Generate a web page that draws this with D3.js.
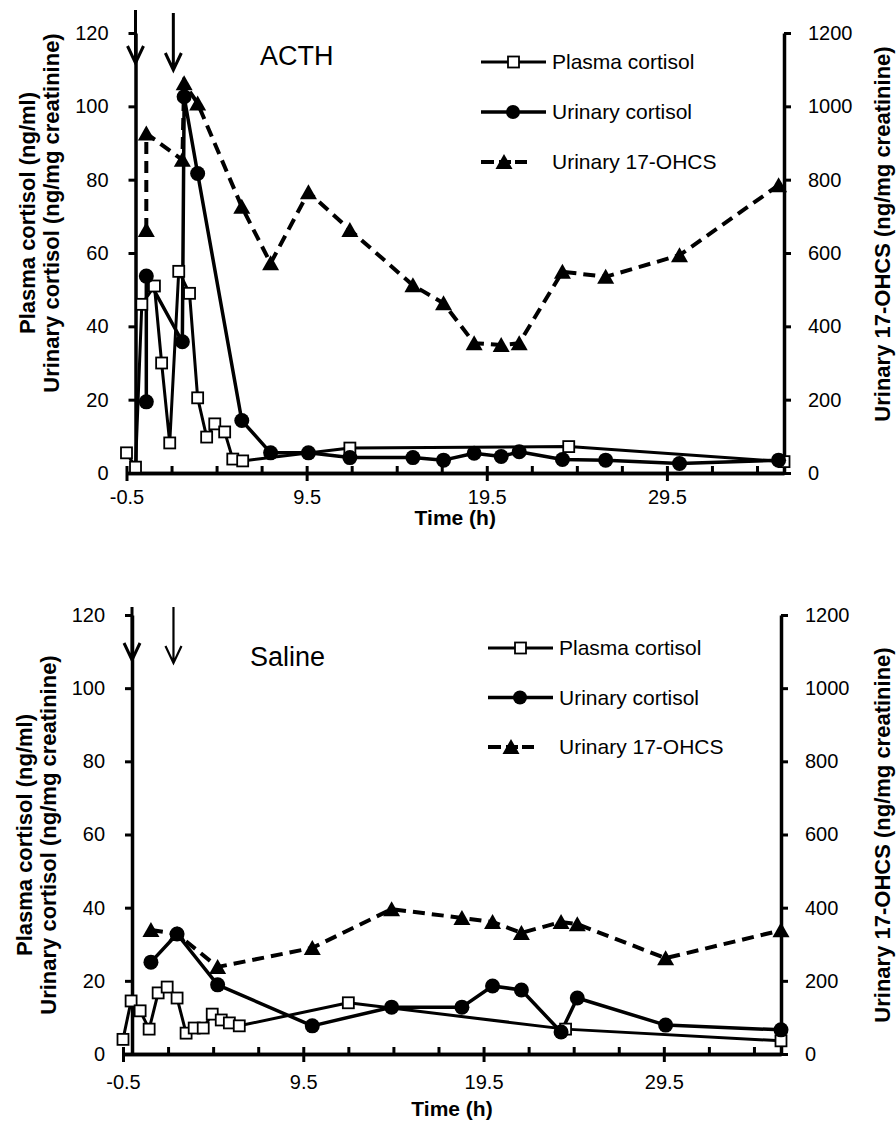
<!DOCTYPE html>
<html>
<head>
<meta charset="utf-8">
<script src="https://cdn.jsdelivr.net/npm/d3@7"></script>
<style>
body { margin: 0; background: #fff; }
svg { display: block; font-family: "Liberation Sans", Arial, sans-serif; }
</style>
</head>
<body>
<div id="chart"></div>
<script>
// ---- ACTH panel ----
var acthPlasmaTime = [-0.5, 0, 0.35, 1.05, 1.45, 1.9, 2.4, 3.0, 3.45, 3.95, 4.4, 4.95, 5.4, 5.95, 11.9, 24.05, 36];
var acthPlasma = [5.5, 1.6, 46, 51, 30, 8.2, 55, 49, 20.5, 9.8, 13.4, 11.2, 3.8, 3.3, 6.8, 7.2, 3.1];
var acthUrineTime = [0.6, 0.6, 2.6, 2.7, 3.45, 5.9, 7.5, 9.6, 11.9, 15.4, 17.1, 18.8, 20.3, 21.3, 23.7, 26.1, 30.2, 35.7];
var acthUrineCortisol = [19.4, 53.7, 35.8, 102.6, 81.7, 14.3, 5.5, 5.5, 4.2, 4.2, 3.5, 5.4, 4.5, 5.8, 3.7, 3.5, 2.6, 3.5];
var acthOhcs = [663, 926, 854, 1063, 1008, 726, 572, 766, 663, 512, 463, 354, 349, 354, 549, 535, 594, 785];
var acthArrowTimes = [0, 2.1];

// ---- Saline panel ----
var salinePlasmaTime = [-0.5, -0.05, 0.45, 0.95, 1.45, 1.95, 2.5, 3.0, 3.45, 3.95, 4.45, 4.95, 5.4, 5.95, 12.0, 24.05, 36];
var salinePlasma = [4, 14.5, 11.8, 6.8, 16.7, 18.3, 15.3, 5.7, 7.1, 7.1, 10.9, 9.3, 8.5, 7.7, 14, 6.8, 3.6];
var salineUrineTime = [1.05, 2.5, 4.75, 10.0, 14.4, 18.3, 20.0, 21.6, 23.8, 24.7, 29.6, 36];
var salineUrineCortisol = [25.1, 32.8, 18.9, 7.7, 12.8, 12.8, 18.6, 17.5, 6.0, 15.3, 7.9, 6.6];
var salineOhcs = [339, 328, 238, 290, 396, 372, 361, 331, 361, 355, 262, 338];
var salineArrowTimes = [0, 2.3];

// ---- shared axes / labels ----
var xMajorTicks = [-0.5, 9.5, 19.5, 29.5];
var xMinorTicks = [2, 4.5, 7, 12, 14.5, 17, 22, 24.5, 27, 32, 34.5];
var leftTicks = [0, 20, 40, 60, 80, 100, 120];
var rightTicks = [0, 200, 400, 600, 800, 1000, 1200];
var seriesNames = ["Plasma cortisol", "Urinary cortisol", "Urinary 17-OHCS"];

var svg = d3.select("#chart")
    .append("svg")
    .attr("width", 896)
    .attr("height", 1131);

var triPath = "M0,-8L8.5,7L-8.5,7Z";

function styleAxis(g) {
    g.select(".domain").attr("stroke", "#000").attr("stroke-width", 3.5);
    g.selectAll(".tick line").attr("stroke", "#000").attr("stroke-width", 3);
    g.selectAll("text").attr("fill", "#000");
    g.attr("font-family", null).attr("font-size", 20);
}

function drawPanel(p) {
    var g = svg.append("g");

    var x = d3.scaleLinear().domain([-0.5, 36]).range([p.left, p.right]);
    var yL = d3.scaleLinear().domain([0, 120]).range([p.bottom, p.top]);
    var yR = d3.scaleLinear().domain([0, 1200]).range([p.bottom, p.top]);

    // x axis: minor ticks inside, major ticks crossing
    var xMinor = g.append("g")
        .attr("transform", "translate(0," + p.bottom + ")")
        .call(d3.axisBottom(x).tickValues(xMinorTicks).tickSize(-7).tickSizeOuter(0).tickFormat(""));
    styleAxis(xMinor);

    var xMajor = g.append("g")
        .attr("transform", "translate(0," + p.bottom + ")")
        .call(d3.axisBottom(x).tickValues(xMajorTicks).tickSize(8).tickPadding(p.xPad).tickSizeOuter(0)
            .tickFormat(function(d) { return d.toFixed(1); }));
    styleAxis(xMajor);
    xMajor.selectAll(".tick line").attr("y1", -7).attr("y2", 8);

    // left axis crosses at t = 0
    var yAxisL = g.append("g")
        .attr("transform", "translate(" + x(0) + ",0)")
        .call(d3.axisLeft(yL).tickValues(leftTicks).tickSize(7).tickPadding(20).tickSizeOuter(0)
            .tickFormat(function(d) { return String(d); }));
    styleAxis(yAxisL);

    var yAxisR = g.append("g")
        .attr("transform", "translate(" + x(36) + ",0)")
        .call(d3.axisRight(yR).tickValues(rightTicks).tickSize(7).tickPadding(17).tickSizeOuter(0)
            .tickFormat(function(d) { return String(d); }));
    styleAxis(yAxisR);

    // injection arrows
    p.arrowTimes.forEach(function(t, i) {
        var ax = x(t), a = p.arrows[i];
        g.append("path")
            .attr("d", "M" + ax + "," + a[0] + "L" + ax + "," + a[1] +
                "M" + (ax - 8) + "," + (a[1] - 17) + "L" + ax + "," + a[1] + "L" + (ax + 8) + "," + (a[1] - 17))
            .attr("fill", "none")
            .attr("stroke", "#000")
            .attr("stroke-width", a[2]);
    });

    var plasma = p.plasmaTime.map(function(t, i) { return [t, p.plasma[i]]; });
    var urine = p.urineTime.map(function(t, i) { return [t, p.urineCortisol[i]]; });
    var ohcs = p.urineTime.map(function(t, i) { return [t, p.ohcs[i]]; });

    var lineL = d3.line().x(function(d) { return x(d[0]); }).y(function(d) { return yL(d[1]); });
    var lineR = d3.line().x(function(d) { return x(d[0]); }).y(function(d) { return yR(d[1]); });

    g.append("path").datum(ohcs)
        .attr("d", lineR).attr("fill", "none").attr("stroke", "#000")
        .attr("stroke-width", 4).attr("stroke-dasharray", "12,7");
    g.append("path").datum(plasma)
        .attr("d", lineL).attr("fill", "none").attr("stroke", "#000")
        .attr("stroke-width", 3).attr("stroke-linejoin", "round");
    g.append("path").datum(urine)
        .attr("d", lineL).attr("fill", "none").attr("stroke", "#000")
        .attr("stroke-width", 3.5).attr("stroke-linejoin", "round");

    g.selectAll(".tri").data(ohcs).enter().append("path")
        .attr("d", triPath)
        .attr("transform", function(d) { return "translate(" + x(d[0]) + "," + yR(d[1]) + ")"; })
        .attr("fill", "#000");
    g.selectAll(".sq").data(plasma).enter().append("rect")
        .attr("x", function(d) { return x(d[0]) - 5.5; })
        .attr("y", function(d) { return yL(d[1]) - 5.5; })
        .attr("width", 11).attr("height", 11)
        .attr("fill", "#fff").attr("stroke", "#000").attr("stroke-width", 1.8);
    g.selectAll(".dot").data(urine).enter().append("circle")
        .attr("cx", function(d) { return x(d[0]); })
        .attr("cy", function(d) { return yL(d[1]); })
        .attr("r", 7.5).attr("fill", "#000");

    // panel title
    g.append("text")
        .attr("x", p.titleX).attr("y", p.titleY)
        .attr("font-size", 27)
        .text(p.title);

    // legend
    var lg = g.append("g").attr("transform", "translate(" + p.legendX + "," + p.legendY + ")");
    seriesNames.forEach(function(name, i) {
        var row = lg.append("g").attr("transform", "translate(0," + (i * p.legendGap) + ")");
        if (i < 2) {
            row.append("line").attr("x1", 0).attr("x2", 65).attr("y1", 0).attr("y2", 0)
                .attr("stroke", "#000").attr("stroke-width", i == 0 ? 3 : 3.5);
        } else {
            row.append("line").attr("x1", 0).attr("x2", 13).attr("y1", 0).attr("y2", 0)
                .attr("stroke", "#000").attr("stroke-width", 4);
            row.append("line").attr("x1", 18).attr("x2", 46).attr("y1", 0).attr("y2", 0)
                .attr("stroke", "#000").attr("stroke-width", 4).attr("stroke-dasharray", "12,4");
        }
        if (i == 0) {
            row.append("rect").attr("x", 27).attr("y", -5.5).attr("width", 11).attr("height", 11)
                .attr("fill", "#fff").attr("stroke", "#000").attr("stroke-width", 1.8);
        } else if (i == 1) {
            row.append("circle").attr("cx", 32).attr("cy", 0).attr("r", 7).attr("fill", "#000");
        } else {
            row.append("path").attr("d", triPath).attr("transform", "translate(23,0)").attr("fill", "#000");
        }
        row.append("text").attr("x", 71).attr("y", 0).attr("dy", "0.35em")
            .attr("font-size", 21).text(name);
    });

    // axis titles
    var lt = g.append("text")
        .attr("transform", "translate(" + p.leftTitleX + "," + p.leftTitleY + ") rotate(-90)")
        .attr("text-anchor", "middle")
        .attr("font-size", 22).attr("font-weight", "bold");
    lt.append("tspan").attr("x", 0).attr("dy", "0.35em").text("Plasma cortisol (ng/ml)");
    lt.append("tspan").attr("x", 0).attr("dy", "1.12em").text("Urinary cortisol (ng/mg creatinine)");

    g.append("text")
        .attr("transform", "translate(" + p.rightTitleX + "," + p.rightTitleY + ") rotate(-90)")
        .attr("text-anchor", "middle").attr("dy", "0.35em")
        .attr("font-size", 22).attr("font-weight", "bold")
        .text("Urinary 17-OHCS (ng/mg creatinine)");

    g.append("text")
        .attr("x", (p.left + p.right) / 2).attr("y", p.timeTitleY)
        .attr("text-anchor", "middle")
        .attr("font-size", 21).attr("font-weight", "bold")
        .text("Time (h)");
}

drawPanel({
    left: 126.5, right: 784, top: 33, bottom: 473,
    plasmaTime: acthPlasmaTime, plasma: acthPlasma,
    urineTime: acthUrineTime, urineCortisol: acthUrineCortisol, ohcs: acthOhcs,
    arrowTimes: acthArrowTimes, arrows: [[10, 63, 3], [13, 70, 3]],
    title: "ACTH", titleX: 260, titleY: 65,
    legendX: 481, legendY: 62, legendGap: 50,
    leftTitleX: 27, leftTitleY: 213,
    rightTitleX: 882, rightTitleY: 234,
    xPad: 9, timeTitleY: 525
});

drawPanel({
    left: 123, right: 781, top: 615, bottom: 1054,
    plasmaTime: salinePlasmaTime, plasma: salinePlasma,
    urineTime: salineUrineTime, urineCortisol: salineUrineCortisol, ohcs: salineOhcs,
    arrowTimes: salineArrowTimes, arrows: [[607, 660, 3], [607, 663, 2.2]],
    title: "Saline", titleX: 250, titleY: 666,
    legendX: 488, legendY: 648, legendGap: 49.5,
    leftTitleX: 24, leftTitleY: 835,
    rightTitleX: 882, rightTitleY: 835,
    xPad: 13, timeTitleY: 1116
});
</script>
</body>
</html>
